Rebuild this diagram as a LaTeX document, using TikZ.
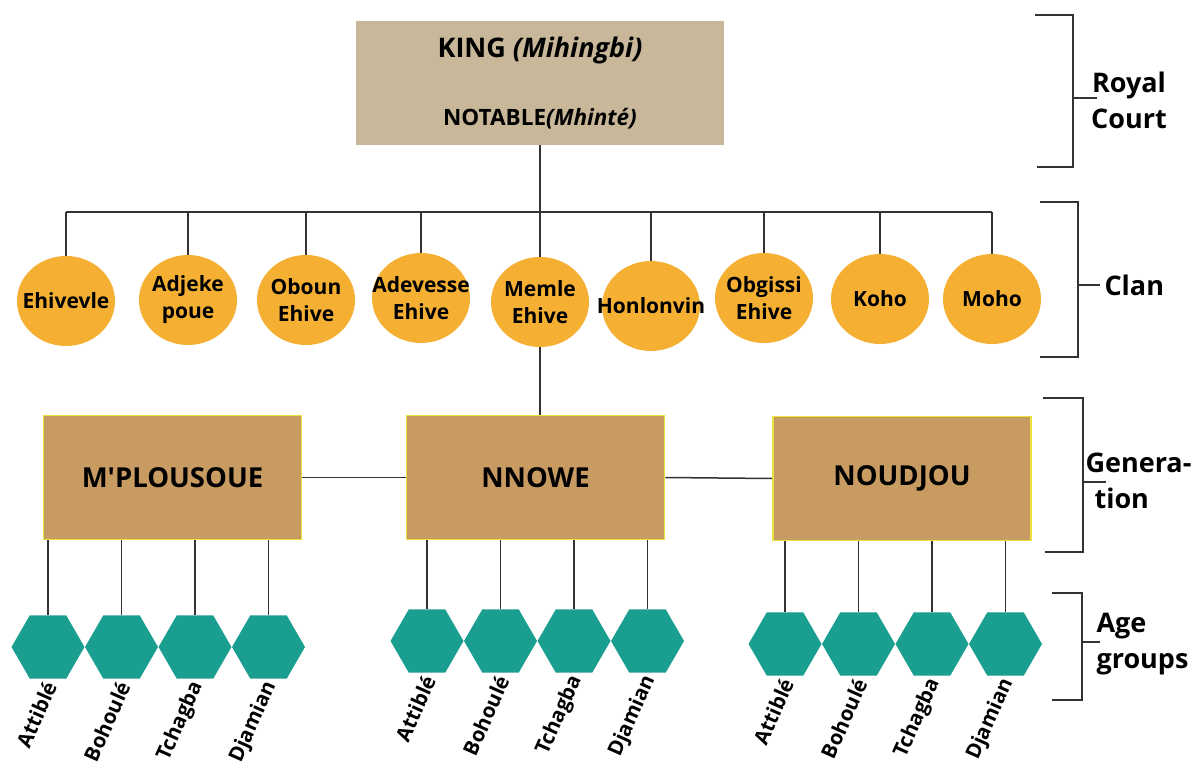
\documentclass[tikz,border=0pt]{standalone}
\usepackage{fontspec}
\setmainfont{Open Sans}
\usetikzlibrary{shapes.geometric}

\definecolor{kingfill}{RGB}{200,184,153}
\definecolor{clanfill}{RGB}{245,176,52}
\definecolor{genfill}{RGB}{199,155,98}
\definecolor{genedge}{RGB}{236,226,60}
\definecolor{hexfill}{RGB}{26,158,144}

\begin{document}
\begin{tikzpicture}[
        x=1pt, y=-1pt,
        link/.style={draw=black!80, line width=1.5pt},
        court/.style={rectangle, fill=kingfill, minimum width=368pt, minimum height=124pt, align=center, font=\bfseries},
        clan/.style={ellipse, fill=clanfill, minimum width=98pt, minimum height=90pt, inner sep=0pt},
        clantxt/.style={align=center, inner sep=0pt, font=\fontsize{21}{27}\selectfont\bfseries},
        gen/.style={rectangle, fill=genfill, draw=genedge, line width=1.6pt, minimum width=258pt, minimum height=124pt, font=\fontsize{27.5}{32}\selectfont\bfseries},
        hexa/.style={regular polygon, regular polygon sides=6, fill=hexfill, minimum size=73pt, inner sep=0pt},
        agelbl/.style={rotate=66, anchor=east, inner sep=1pt, font=\fontsize{20.5}{24}\selectfont\bfseries},
        side/.style={align=center, font=\fontsize{27}{36}\selectfont\bfseries}
    ]
    \useasboundingbox (0,0) rectangle (1193,765);

    % Royal court
    \node[court] (king) at (540,83)
        {\fontsize{27}{32}\selectfont KING \textit{(Mihingbi)}\\[44pt]
         \fontsize{22.5}{27}\selectfont NOTABLE\textit{(Mhinté)}};
    \coordinate (bar) at (540,212);
    \draw[link] (king.south) -- (bar);

    % Clans
    \foreach \i/\x/\y/\t in {1/66/301/Ehivevle, 2/188/300/{Adjeke\\poue},
            3/306/300/{Oboun\\Ehive}, 4/421/298/{Adevesse\\Ehive},
            5/540/302/{Memle\\Ehive}, 6/651/306/Honlonvin,
            7/764/298/{Obgissi\\Ehive}, 8/880/299/Koho, 9/992/299/Moho} {
        \node[clan] (c\i) at (\x,\y) {};
        \node[clantxt] (ct\i) at (c\i) {\t};
        \draw[link] (c\i.north |- bar) -- (c\i.north);
    }
    \draw[link] (c1.north |- bar) -- (c9.north |- bar);

    % Generations
    \node[gen] (g1) at (172.5,477.5) {M\textquotesingle PLOUSOUE};
    \node[gen] (g2) at (535.5,477.5) {NNOWE};
    \node[gen] (g3) at (902,478.5) {NOUDJOU};
    \draw[link] (c5.south) -- (c5.south |- g2.north);
    \draw[link] (g1.east) -- (g2.west);
    \draw[link] (g2.east) -- (g3.west);

    % Age groups
    \foreach \g/\x/\y in {1/48/647, 2/427/641, 3/785/644}
        \foreach \n [count=\i from 0] in {Attiblé, Bohoulé, Tchagba, Djamian} {
            \node[hexa] (h\g\i) at ({\x+73.5*\i},\y) {};
            \draw[link] (h\g\i.north |- g\g.south) -- (h\g\i.north);
            \node[agelbl] (a\g\i) at ([xshift=3pt,yshift=-3pt]h\g\i.south) {\n};
        }

    % Brackets on the right
    \draw[link] (1035,15) -- (1073,15) -- (1073,167) -- (1037,167);
    \draw[link] (1073,98) -- (1097,98);
    \node[side] (royal) at (1129,100) {Royal\\Court};

    \draw[link] (1040,202) -- (1078,202) -- (1078,357) -- (1040,357);
    \draw[link] (1078,285) -- (1100,285);
    \node[side, anchor=west] (clanlbl) at (1101,285) {Clan};

    \draw[link] (1043,398) -- (1083,398) -- (1083,552) -- (1045,552);
    \draw[link] (1083,482) -- (1106,482);
    \node[side, align=left, anchor=west] (genlbl) at (1082,481) {Genera-\\\hspace*{9pt}tion};

    \draw[link] (1052,593) -- (1082,593) -- (1082,700) -- (1052,700);
    \draw[link] (1082,642) -- (1100,642);
    \node[side, align=left, anchor=west] (agelbl) at (1093,644) {Age\\groups};
\end{tikzpicture}
\end{document}
